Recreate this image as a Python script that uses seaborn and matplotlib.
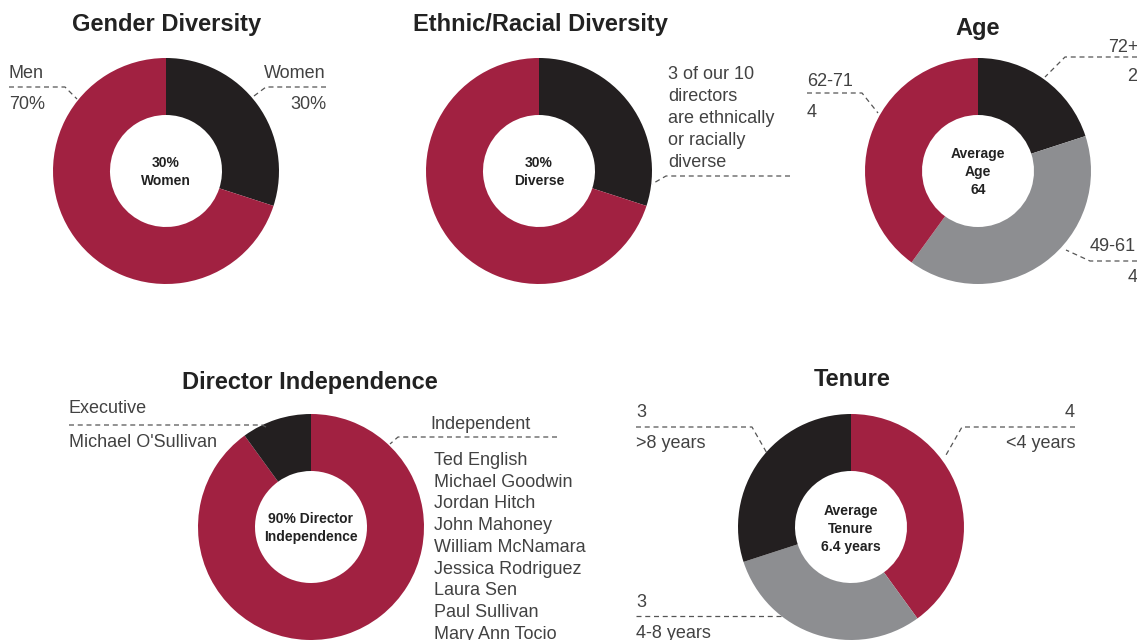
import matplotlib
matplotlib.use("Agg")
import matplotlib.pyplot as plt
import seaborn as sns

sns.set_theme(style="white")
plt.rcParams['font.family'] = ['Liberation Sans', 'DejaVu Sans']

# ---- data ----
gender_labels = ["Women", "Men"]
gender_values = [30, 70]
ethnic_labels = ["Diverse", "Not diverse"]
ethnic_values = [3, 7]
ethnic_note = ["3 of our 10", "directors", "are ethnically", "or racially", "diverse"]
age_labels = ["72+", "49-61", "62-71"]
age_values = [2, 4, 4]
indep_labels = ["Independent", "Executive"]
indep_values = [9, 1]
tenure_labels = ["<4 years", "4-8 years", ">8 years"]
tenure_values = [4, 3, 3]
independent_names = ["Ted English", "Michael Goodwin", "Jordan Hitch", "John Mahoney",
                     "William McNamara", "Jessica Rodriguez", "Laura Sen",
                     "Paul Sullivan", "Mary Ann Tocio"]
executive_names = ["Michael O'Sullivan"]

CRIMSON = "#A12141"
BLACK = "#231F20"
GRAY = "#8D8E91"
TXT = "#424242"
TTL = "#222222"
LINE = "#555555"

W, H = 1137, 640
fig = plt.figure(figsize=(W / 100, H / 100), dpi=100)
ax = fig.add_axes([0, 0, 1, 1])

def Y(y):
    return H - y

R = 113
WID = 57
LFS = 13
DY = 1.5  # small vertical text offset

def donut(values, colors, cx, cy):
    ax.pie(values, colors=colors, startangle=90, counterclock=False,
           center=(cx, Y(cy)), radius=R,
           wedgeprops=dict(width=WID, edgecolor="none", linewidth=0))

def title(s, x, y):
    ax.text(x, Y(y + 2), s, ha="center", va="center", fontsize=17, fontweight="bold", color=TTL)

def center_text(s, x, y):
    ax.text(x, Y(y + 1), s, ha="center", va="center", fontsize=10, fontweight="bold",
            color=TTL, linespacing=1.4)

def label(s, x, y, ha="left"):
    ax.text(x, Y(y + DY), s, ha=ha, va="center", fontsize=LFS, color=TXT)

def leader(pts):
    xs = [p[0] for p in pts]
    ys = [Y(p[1]) for p in pts]
    ax.plot(xs, ys, color=LINE, lw=0.9, ls=(0, (4, 3)), solid_capstyle="butt")

# Gender
donut(gender_values, [BLACK, CRIMSON], 166, 171)
title("Gender Diversity", 167, 23)
center_text("30%\nWomen", 166, 171)
label("Men", 9, 72)
label("70%", 9, 103)
label("Women", 326, 72, ha="right")
label("30%", 326, 103, ha="right")
leader([(9, 87), (65, 87), (77, 99)])
leader([(326, 87), (266, 87), (254, 96)])

# Ethnic
donut(ethnic_values, [BLACK, CRIMSON], 539, 171)
title("Ethnic/Racial Diversity", 540, 23)
center_text("30%\nDiverse", 539, 171)
for i, line in enumerate(ethnic_note):
    label(line, 668, 73 + i * 22)
leader([(790, 176), (666, 176), (652, 184)])

# Age
donut(age_values, [BLACK, GRAY, CRIMSON], 978, 171)
title("Age", 978, 26)
center_text("Average\nAge\n64", 978, 171)
label("72+", 1108, 46)
label("2", 1127, 75)
label("62-71", 807, 80)
label("4", 807, 111)
label("49-61", 1090, 245)
label("4", 1128, 276)
leader([(1137, 57), (1065, 57), (1045, 77)])
leader([(807, 93), (862, 93), (878, 113)])
leader([(1137, 261), (1090, 261), (1066, 250)])

# Director independence
donut(indep_values, [CRIMSON, BLACK], 311, 527)
title("Director Independence", 310, 380)
center_text("90% Director\nIndependence", 311, 527)
label("Executive", 69, 407)
label(executive_names[0], 69, 441)
label("Independent", 430, 423)
leader([(69, 425), (262, 425), (268, 428)])
leader([(557, 437), (398, 437), (390, 444)])
for i, n in enumerate(independent_names):
    label(n, 434, 459 + i * 21.7)

# Tenure
donut(tenure_values, [CRIMSON, GRAY, BLACK], 851, 527)
title("Tenure", 852, 378)
center_text("Average\nTenure\n6.4 years", 851, 528)
label("3", 636, 411)
label(">8 years", 636, 442)
label("4", 1075, 411, ha="right")
label("<4 years", 1075, 442, ha="right")
label("3", 636, 601)
label("4-8 years", 636, 632)
leader([(636, 427), (752, 427), (768, 455)])
leader([(1075, 427), (962, 427), (946, 455)])
leader([(636, 616), (782, 616)])

ax.set_xlim(0, W)
ax.set_ylim(0, H)
ax.set_aspect("equal")
ax.axis("off")
fig.savefig("out.png", dpi=100)
